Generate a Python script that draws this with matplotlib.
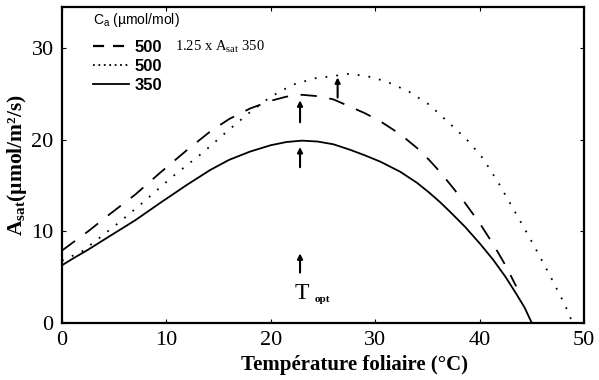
import matplotlib
matplotlib.use("Agg")
import matplotlib.pyplot as plt
from matplotlib.lines import Line2D

# leaf temperature (°C) and assimilation (µmol/m2/s)
t_350 = [0, 1, 2.5, 4.6, 7, 9.4, 12, 14.2, 16, 18, 20, 21.5, 23, 24.5, 26, 27.6, 29, 30.5,
         32.4, 34, 35.2, 36.2, 37.2, 38.6, 40, 41.3, 42.5, 43.5, 44.3, 45]
a_350 = [6.3, 7.0, 8.0, 9.5, 11.2, 13.1, 15.1, 16.7, 17.8, 18.7, 19.4, 19.75, 19.9, 19.8, 19.5, 18.9, 18.3, 17.6,
         16.5, 15.3, 14.2, 13.2, 12.1, 10.5, 8.7, 6.9, 5.0, 3.2, 1.7, 0.0]

t_125 = [0, 1, 2.5, 4.6, 7, 9.4, 12, 14.2, 16, 18, 20, 21.5, 23, 24.5, 26, 27.6, 29, 30.5,
         32.4, 34, 35.2, 36.2, 37.2, 38.6, 40, 41.3, 42.5, 43.5]
a_125 = [7.9, 8.75, 10.0, 11.9, 14.0, 16.4, 18.9, 20.9, 22.25, 23.4, 24.25, 24.7, 24.9, 24.75, 24.4, 23.6, 22.9, 22.0,
         20.6, 19.1, 17.75, 16.5, 15.1, 13.1, 10.9, 8.6, 6.25, 4.0]

t_500 = [0, 1.9, 3.6, 5.5, 7.8, 10.5, 13.5, 15.9, 18, 20, 22.1, 24.2, 26.3, 27.6, 29.8, 31.6,
         33.3, 35.2, 37, 38.7, 40.3, 41.8, 43.2, 44.5, 45.8, 47, 48.2, 48.8]
a_500 = [6.8, 7.8, 9.3, 11.0, 13.2, 15.9, 18.6, 21.0, 23.0, 24.7, 26.0, 26.7, 27.0, 27.2, 26.8, 26.1,
         25.2, 23.8, 21.9, 20.1, 18.0, 15.3, 12.5, 9.9, 7.2, 4.6, 1.9, 0.3]

# small arrows (x, tail, tip)
arrows = [(22.8, 17.0, 19.2), (22.8, 21.9, 24.3), (26.4, 24.6, 26.8), (22.8, 5.5, 7.6)]

xticks = [0, 10, 20, 30, 40, 50]
yticks = [0, 10, 20, 30]

serif = ["Liberation Serif", "DejaVu Serif"]
sans = ["Liberation Sans", "DejaVu Sans"]

fig = plt.figure(figsize=(5.99, 3.80), dpi=100)
ax = fig.add_axes([0.1035, 0.15, 0.8715, 0.832])

ax.plot(t_125, a_125, color="black", lw=1.3, dashes=(9, 7))
ax.plot(t_500, a_500, color="black", lw=1.3, linestyle=(0, (1, 5)))
ax.plot(t_350, a_350, color="black", lw=1.3)

for x, y0, y1 in arrows:
    ax.annotate("", xy=(x, y1), xytext=(x, y0),
                arrowprops=dict(arrowstyle="-|>,head_length=0.3,head_width=0.15",
                                color="black", lw=1.5, shrinkA=0, shrinkB=0))

ax.text(22.3, 2.6, "T", fontsize=17, family=serif)
ax.text(24.2, 2.3, "opt", fontsize=8, fontweight="bold", family=serif)

ax.set_xlim(0, 50)
ax.set_ylim(0, 34.5)
ax.set_xticks(xticks)
ax.set_yticks(yticks)
ax.tick_params(direction="in", length=3, top=True, right=True, labelsize=16, pad=6)
for lab in ax.get_xticklabels() + ax.get_yticklabels():
    lab.set_family(serif)
for s in ax.spines.values():
    s.set_linewidth(1.6)

ax.set_xlabel("Température foliaire (°C)", fontsize=15, fontweight="bold", family=serif)
ax.xaxis.set_label_coords(0.561, -0.1)
ax.set_ylabel(r"A$_{\mathregular{sat}}$(µmol/m²/s)", fontsize=15.5, fontweight="bold", family=serif, labelpad=2)

handles = [Line2D([], [], color="black", lw=1.6, dashes=(5, 4)),
           Line2D([], [], color="black", lw=1.3, linestyle=(0, (1, 2))),
           Line2D([], [], color="black", lw=1.3)]
leg = ax.legend(handles, ["500", "500", "350"], loc="upper left", bbox_to_anchor=(0.03, 1.035),
                frameon=False, handlelength=2.2, handletextpad=0.3, labelspacing=0.25,
                title=r"C$_{\mathregular{a}}$ (µmol/mol)",
                prop=dict(family=sans, weight="bold", size=12))
leg.get_title().set_family(sans)
leg.get_title().set_fontsize(10)
leg._legend_box.align = "left"
leg._legend_box.sep = 8

ax.text(0.216, 0.862, r"1.25 x A$_{\mathregular{sat}}$ 350", transform=ax.transAxes,
        fontsize=10.5, family=serif)

fig.savefig("out.png", dpi=100)
